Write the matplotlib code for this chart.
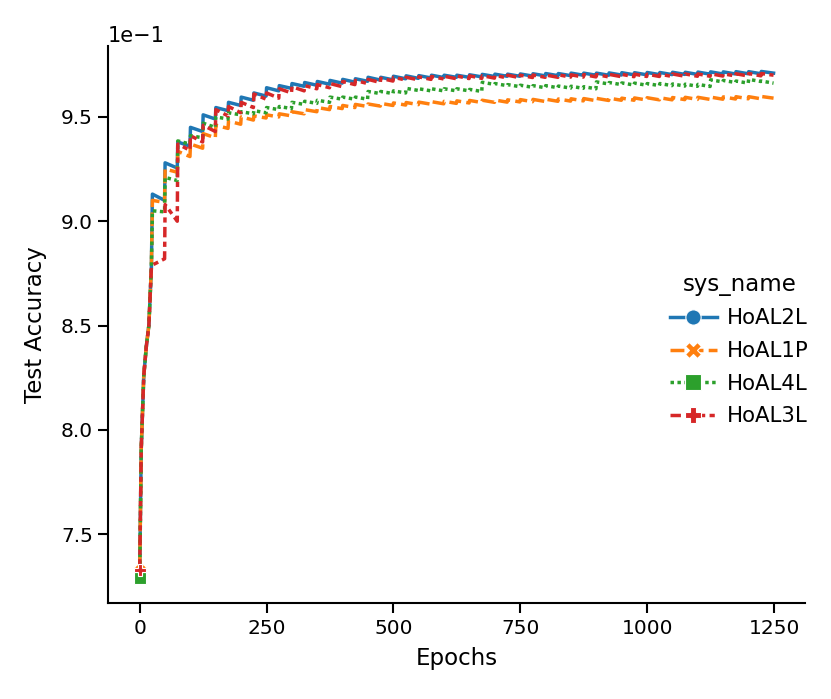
import matplotlib
matplotlib.use('Agg')
import matplotlib.pyplot as plt
from matplotlib.lines import Line2D

# shared warm-up (epochs 0..23), all runs overlap here
early_epochs = [0, 3, 8, 13, 18, 23]
early_acc = [0.7330, 0.7910, 0.8260, 0.8400, 0.8500, 0.8780]
green_start = 0.7290

# each period of 25 epochs: value right after the jump (25k) and just before the next one (25k+24)
period_starts = list(range(25, 1250, 25))

blue_peaks = [0.9130, 0.9280, 0.9380, 0.9450, 0.9510, 0.9545, 0.9570, 0.9595, 0.9615, 0.9640,
              0.9650, 0.9660, 0.9665, 0.9670, 0.9675, 0.9680, 0.9683, 0.9690, 0.9690, 0.9695,
              0.9697, 0.9698, 0.9700, 0.9700, 0.9700, 0.9702, 0.9704, 0.9705, 0.9705, 0.9706,
              0.9707, 0.9708, 0.9708, 0.9710, 0.9710, 0.9710, 0.9711, 0.9712, 0.9712, 0.9713,
              0.9713, 0.9714, 0.9714, 0.9715, 0.9716, 0.9716, 0.9717, 0.9717, 0.9718]
blue_troughs = [0.9100, 0.9255, 0.9360, 0.9430, 0.9490, 0.9530, 0.9555, 0.9580, 0.9600, 0.9625,
                0.9637, 0.9647, 0.9652, 0.9657, 0.9662, 0.9667, 0.9671, 0.9677, 0.9678, 0.9683,
                0.9685, 0.9687, 0.9689, 0.9690, 0.9690, 0.9692, 0.9694, 0.9695, 0.9695, 0.9696,
                0.9697, 0.9698, 0.9698, 0.9700, 0.9700, 0.9700, 0.9701, 0.9702, 0.9702, 0.9703,
                0.9703, 0.9704, 0.9704, 0.9705, 0.9706, 0.9706, 0.9707, 0.9707, 0.9710]

orange_peaks = [0.9100, 0.9250, 0.9335, 0.9370, 0.9420, 0.9460, 0.9480, 0.9500, 0.9505, 0.9510,
                0.9515, 0.9525, 0.9535, 0.9545, 0.9550, 0.9555, 0.9560, 0.9562, 0.9565, 0.9567,
                0.9569, 0.9571, 0.9573, 0.9575, 0.9577, 0.9579, 0.9580, 0.9581, 0.9582, 0.9583,
                0.9584, 0.9585, 0.9586, 0.9587, 0.9588, 0.9589, 0.9590, 0.9590, 0.9591, 0.9592,
                0.9592, 0.9593, 0.9594, 0.9594, 0.9595, 0.9596, 0.9597, 0.9597, 0.9598]
orange_troughs = [0.9090, 0.9235, 0.9310, 0.9350, 0.9400, 0.9445, 0.9465, 0.9485, 0.9495, 0.9500,
                  0.9505, 0.9515, 0.9525, 0.9535, 0.9540, 0.9545, 0.9550, 0.9552, 0.9555, 0.9557,
                  0.9559, 0.9561, 0.9563, 0.9565, 0.9567, 0.9569, 0.9570, 0.9571, 0.9572, 0.9573,
                  0.9574, 0.9575, 0.9576, 0.9577, 0.9578, 0.9579, 0.9580, 0.9580, 0.9581, 0.9582,
                  0.9582, 0.9583, 0.9584, 0.9584, 0.9585, 0.9586, 0.9587, 0.9587, 0.9590]

green_peaks = [0.9050, 0.9210, 0.9385, 0.9410, 0.9470, 0.9500, 0.9520, 0.9525, 0.9530, 0.9545,
               0.9550, 0.9570, 0.9575, 0.9580, 0.9595, 0.9595, 0.9595, 0.9622, 0.9622, 0.9625,
               0.9637, 0.9635, 0.9635, 0.9635, 0.9635, 0.9632, 0.9666, 0.9660, 0.9655, 0.9652,
               0.9650, 0.9650, 0.9648, 0.9647, 0.9645, 0.9668, 0.9665, 0.9663, 0.9662, 0.9660,
               0.9660, 0.9658, 0.9657, 0.9656, 0.9678, 0.9675, 0.9672, 0.9680, 0.9672]
green_troughs = [0.9045, 0.9195, 0.9370, 0.9400, 0.9450, 0.9490, 0.9510, 0.9515, 0.9520, 0.9535,
                 0.9540, 0.9560, 0.9565, 0.9570, 0.9585, 0.9585, 0.9585, 0.9612, 0.9612, 0.9615,
                 0.9627, 0.9625, 0.9625, 0.9625, 0.9625, 0.9622, 0.9656, 0.9650, 0.9645, 0.9642,
                 0.9640, 0.9640, 0.9638, 0.9637, 0.9635, 0.9658, 0.9655, 0.9653, 0.9652, 0.9650,
                 0.9650, 0.9648, 0.9647, 0.9646, 0.9668, 0.9665, 0.9662, 0.9670, 0.9662]

red_peaks = [0.8790, 0.9080, 0.9370, 0.9410, 0.9460, 0.9535, 0.9550, 0.9570, 0.9610, 0.9615,
             0.9635, 0.9645, 0.9650, 0.9655, 0.9660, 0.9670, 0.9675, 0.9680, 0.9685, 0.9690,
             0.9690, 0.9692, 0.9694, 0.9695, 0.9696, 0.9697, 0.9698, 0.9699, 0.9700, 0.9700,
             0.9701, 0.9701, 0.9702, 0.9702, 0.9703, 0.9703, 0.9704, 0.9704, 0.9705, 0.9705,
             0.9705, 0.9706, 0.9706, 0.9706, 0.9707, 0.9707, 0.9707, 0.9708, 0.9708]
red_troughs = [0.8820, 0.9000, 0.9340, 0.9380, 0.9430, 0.9505, 0.9520, 0.9545, 0.9585, 0.9590,
               0.9615, 0.9625, 0.9635, 0.9640, 0.9645, 0.9655, 0.9660, 0.9665, 0.9672, 0.9677,
               0.9678, 0.9680, 0.9682, 0.9683, 0.9684, 0.9685, 0.9686, 0.9687, 0.9688, 0.9689,
               0.9690, 0.9690, 0.9691, 0.9691, 0.9692, 0.9692, 0.9693, 0.9693, 0.9694, 0.9694,
               0.9694, 0.9695, 0.9695, 0.9695, 0.9696, 0.9696, 0.9696, 0.9697, 0.9700]

sys_names = ['HoAL2L', 'HoAL1P', 'HoAL4L', 'HoAL3L']
colors = ['#1f77b4', '#ff7f0e', '#2ca02c', '#d62728']
markers = ['o', 'X', 's', 'P']
dashes = [None, (4, 1.5), (1, 1), (3, 1.25, 1.5, 1.25)]


def build_series(peaks, troughs, start=None):
    xs = list(early_epochs)
    ys = list(early_acc)
    if start is not None:
        ys[0] = start
    for ep, p, t in zip(period_starts, peaks, troughs):
        xs += [ep, ep + 24]
        ys += [p, t]
    return xs, ys


series = [
    build_series(blue_peaks, blue_troughs),
    build_series(orange_peaks, orange_troughs),
    build_series(green_peaks, green_troughs, start=green_start),
    build_series(red_peaks, red_troughs),
]

fig = plt.figure(figsize=(8.31, 6.99), dpi=100)
ax = fig.add_axes([0.130, 0.137, 0.839, 0.797])

lw = 2.5
handles = []
for (xs, ys), name, c, m, d in zip(series, sys_names, colors, markers, dashes):
    line, = ax.plot(xs, ys, color=c, lw=lw, marker=m, markevery=[0], markersize=9,
                    markeredgecolor='white', markeredgewidth=0.8)
    if d is not None:
        line.set_dashes(d)
    h = Line2D([], [], color=c, lw=lw, marker=m, markersize=11,
               markeredgecolor='white', markeredgewidth=0.8)
    if d is not None:
        h.set_dashes(d)
    handles.append(h)

ax.ticklabel_format(axis='y', style='sci', scilimits=(0, 0))
ax.set_xticks([0, 250, 500, 750, 1000, 1250])
ax.set_yticks([0.75, 0.80, 0.85, 0.90, 0.95])
ax.tick_params(labelsize=14.5, length=7.5, width=1.5)
ax.yaxis.get_offset_text().set_fontsize(15)
ax.set_xlabel('Epochs', fontsize=16.5, labelpad=7)
ax.set_ylabel('Test Accuracy', fontsize=16.5, labelpad=10)
for s in ['top', 'right']:
    ax.spines[s].set_visible(False)
for s in ['left', 'bottom']:
    ax.spines[s].set_linewidth(1.5)

fig.legend(handles, sys_names, title='sys_name', loc='center left',
           bbox_to_anchor=(0.783, 0.5), frameon=False, fontsize=15.3,
           title_fontsize=16.5, labelspacing=0.6, handlelength=2.2,
           handletextpad=0.5)

fig.savefig('out.png', dpi=100)
